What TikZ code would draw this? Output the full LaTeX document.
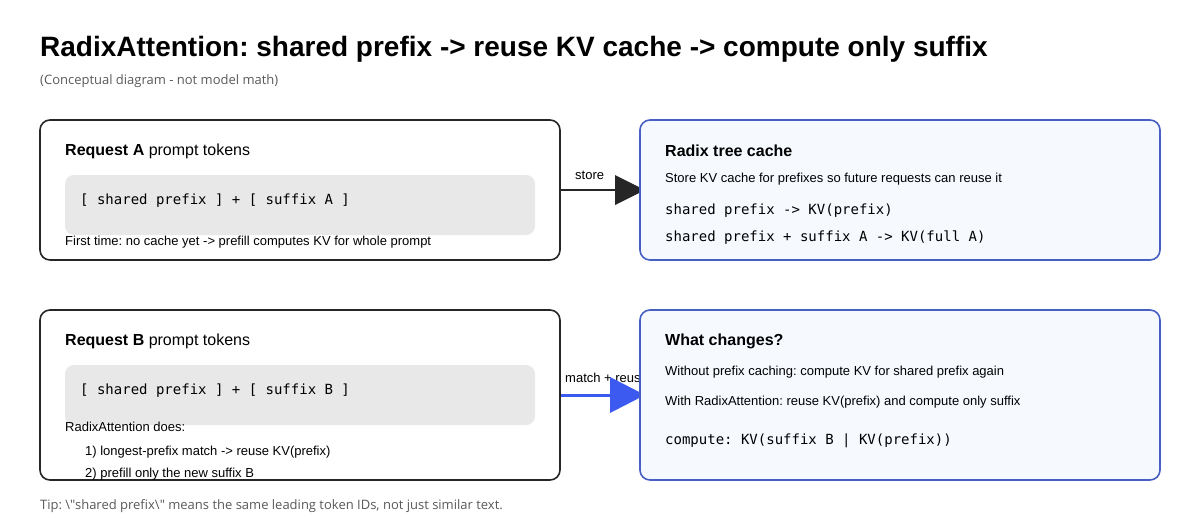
\documentclass[tikz,border=0pt]{standalone}
\usepackage{fontspec}
\setmainfont{Liberation Sans}
\newfontfamily\opensans{Open Sans}
\newfontfamily\mono{DejaVu Sans Mono}
\definecolor{bline}{RGB}{70,95,195}
\definecolor{bfill}{RGB}{246,250,255}
\definecolor{barrow}{RGB}{60,90,240}
\frenchspacing
\begin{document}
\begin{tikzpicture}[x=1pt,y=-1pt,
  card/.style={draw=black!85,line width=1.6pt,rounded corners=10pt,fill=white},
  bluecard/.style={draw=bline,line width=1.6pt,rounded corners=10pt,fill=bfill},
  code/.style={fill=black!9,rounded corners=9pt},
  txt/.style={anchor=west,inner sep=0pt,font=\fontsize{13}{15}\selectfont},
  mtxt/.style={anchor=west,inner sep=0pt,font=\mono\fontsize{14}{16}\selectfont},
  head/.style={anchor=west,inner sep=0pt,font=\fontsize{16}{18}\selectfont},
  grey/.style={anchor=west,inner sep=0pt,text=black!65,font=\opensans\fontsize{13}{15}\selectfont}]
\useasboundingbox (0,0) rectangle (1200,520);
\node[anchor=base west,inner sep=0pt,font=\bfseries\fontsize{28}{32}\selectfont] (title) at (40,56) {RadixAttention: shared prefix -> reuse KV cache -> compute only suffix};
\node[grey] (sub) at (40,81) {(Conceptual diagram - not model math)};
% arrow labels (behind boxes)
\node[txt] (lstore) at (575,175) {store};
\node[txt] (lmatch) at (565,378) {match + reuse};
\coordinate (s1) at (560,190); \coordinate (s2) at (645,190);
\coordinate (m1) at (560,395); \coordinate (m2) at (645,395);
\draw[line width=2.5pt,black!85] (s1) -- (620,190);
\fill[black!85] (615,175) -- (s2) -- (615,205) -- cycle;
\draw[line width=3pt,barrow] (m1) -- (615,395);
\fill[barrow] (610,377) -- (m2) -- (610,413) -- cycle;
% boxes
\draw[card] (40,120) rectangle (560,260);
\draw[bluecard] (640,120) rectangle (1160,260);
\draw[card] (40,310) rectangle (560,480);
\draw[bluecard] (640,310) rectangle (1160,480);
\fill[code] (65,175) rectangle (535,235);
\fill[code] (65,365) rectangle (535,425);
% A
\node[head] (ha) at (65,151) {\textbf{Request A} prompt tokens};
\node[mtxt] (ca) at (80,201) {[ shared prefix ] + [ suffix A ]};
\node[txt] (ta) at (65,242) {First time: no cache yet -> prefill computes KV for whole prompt};
% Radix
\node[head] (hr) at (665,151) {\textbf{Radix tree cache}};
\node[txt] (tr) at (665,179) {Store KV cache for prefixes so future requests can reuse it};
\node[mtxt] (r1) at (665,211) {shared prefix -> KV(prefix)};
\node[mtxt] (r2) at (665,238) {shared prefix + suffix A -> KV(full A)};
% B
\node[head] (hb) at (65,341) {\textbf{Request B} prompt tokens};
\node[mtxt] (cb) at (80,391) {[ shared prefix ] + [ suffix B ]};
\node[txt] (tb) at (65,427) {RadixAttention does:};
\node[txt] (b1) at (85,452) {1) longest-prefix match -> reuse KV(prefix)};
\node[txt] (b2) at (85,474) {2) prefill only the new suffix B};
% What changes
\node[head] (hw) at (665,341) {\textbf{What changes?}};
\node[txt] (w1) at (665,372) {Without prefix caching: compute KV for shared prefix again};
\node[txt] (w2) at (665,402) {With RadixAttention: reuse KV(prefix) and compute only suffix};
\node[mtxt] (w3) at (665,441) {compute: KV(suffix B | KV(prefix))};
\node[grey] (tip) at (40,506) {Tip: \textbackslash"shared prefix\textbackslash" means the same leading token IDs, not just similar text.};
\end{tikzpicture}
\end{document}
